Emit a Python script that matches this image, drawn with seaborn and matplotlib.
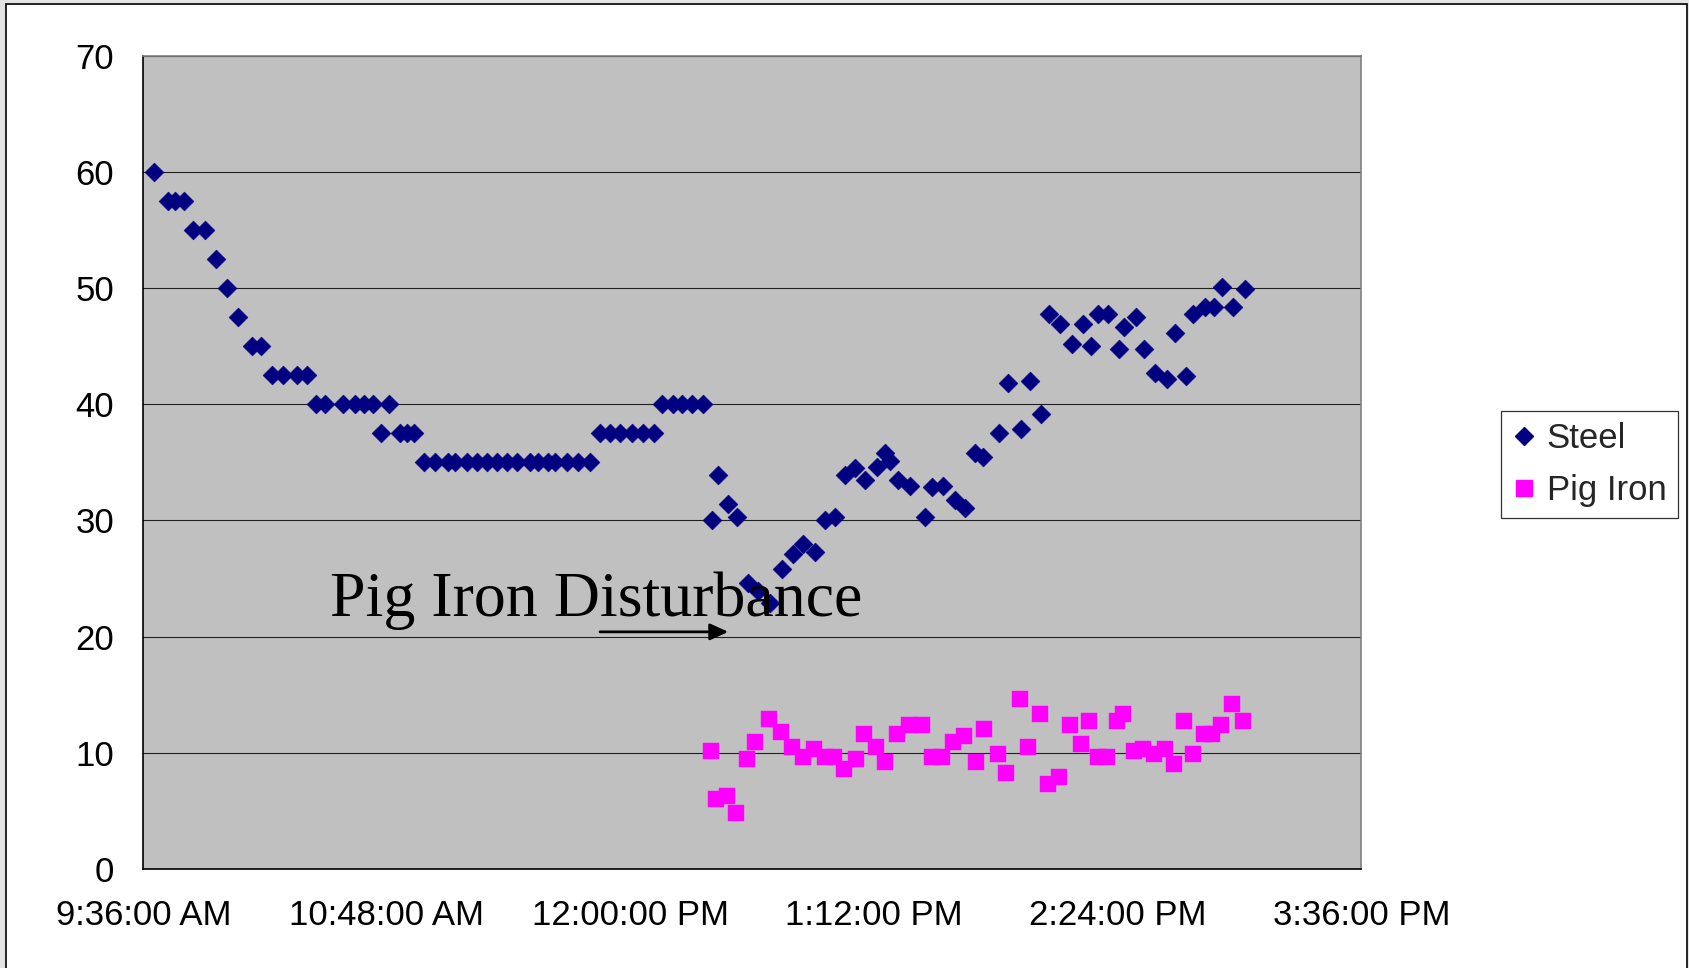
import matplotlib
matplotlib.use('Agg')
import matplotlib.pyplot as plt
import seaborn as sns
import pandas as pd
from matplotlib.patches import Rectangle
from matplotlib.lines import Line2D

# ---- data (minutes after 9:36 AM) ----
steel_min = [3.1, 7.2, 9.3, 12.1, 14.8, 18.1, 21.4, 24.7, 28.0, 32.2,
             34.9, 38.0, 41.3, 45.4, 48.5, 51.0, 53.6, 59.1, 62.6, 65.2,
             67.9, 70.3, 72.6, 75.9, 77.9, 80.1,
             83.0, 86.2, 90.2, 92.1, 95.6, 98.6, 101.5, 104.5, 107.4, 110.4,
             114.3, 116.8, 119.7, 121.7, 125.2, 128.6, 132.0,
             135.0, 137.9, 140.9, 144.4, 147.8, 151.0,
             153.2, 156.5, 159.1, 162.3, 165.5,
             168.0, 169.8, 172.9, 175.4, 178.8, 181.8, 185.2, 188.7, 192.0, 195.1,
             198.6, 201.5, 204.5, 207.4, 210.4, 213.3, 216.8, 219.2, 220.7, 223.2,
             226.6, 230.9, 233.0, 236.5, 239.9, 242.9, 245.8, 248.3, 253.0, 255.5,
             259.4, 262.1, 265.3, 267.8, 271.0, 274.4, 277.7, 280.1, 282.3, 285.2,
             288.5, 290.0, 293.3, 295.8, 299.0, 302.5, 304.9, 308.2, 310.4, 313.8,
             316.6, 318.9, 322.2, 325.5]
steel_val = [60, 57.5, 57.5, 57.5, 55, 55, 52.5, 50, 47.5, 45,
             45, 42.5, 42.5, 42.5, 42.5, 40, 40, 40, 40, 40,
             40, 37.5, 40, 37.5, 37.5, 37.5,
             35, 35, 35, 35, 35, 35, 35, 35, 35, 35,
             35, 35, 35, 35, 35, 35, 35,
             37.5, 37.5, 37.5, 37.5, 37.5, 37.5,
             40, 40, 40, 40, 40,
             30.0, 33.9, 31.4, 30.3, 24.6, 23.9, 22.9, 25.8, 27.1, 28.0,
             27.3, 30.0, 30.3, 33.9, 34.5, 33.5, 34.6, 35.8, 35.1, 33.5,
             33.0, 30.3, 32.85, 33.0, 31.8, 31.1, 35.8, 35.5, 37.5, 41.8,
             37.9, 42.0, 39.2, 47.8, 46.9, 45.2, 46.9, 45.0, 47.8, 47.8,
             44.8, 46.7, 47.5, 44.8, 42.7, 42.2, 46.1, 42.4, 47.8, 48.4,
             48.4, 50.1, 48.4, 49.9]

pig_min = [167.7, 169.3, 172.6, 175.1, 178.4, 180.9, 185.0, 188.4, 191.7, 194.9,
           198.3, 201.5, 204.2, 207.2, 210.6, 213.0, 216.5, 219.2, 222.9, 226.3,
           230.3, 233.1, 236.2, 239.4, 242.7, 246.1, 248.5, 252.6, 255.0, 259.1,
           261.6, 264.9, 267.3, 270.7, 273.9, 277.2, 279.6, 282.3, 284.8, 287.9,
           289.7, 292.9, 295.4, 298.6, 302.1, 304.5, 307.7, 310.3, 313.6, 316.0,
           318.5, 321.7, 325.0]
pig_val = [10.1, 6.0, 6.3, 4.8, 9.45, 10.9, 12.9, 11.8, 10.5, 9.6,
           10.3, 9.6, 9.6, 8.6, 9.45, 11.6, 10.5, 9.2, 11.6, 12.4,
           12.4, 9.6, 9.6, 10.9, 11.4, 9.2, 12.0, 9.9, 8.2, 14.6,
           10.5, 13.3, 7.3, 7.9, 12.4, 10.7, 12.7, 9.6, 9.6, 12.7,
           13.3, 10.1, 10.3, 9.9, 10.3, 9.0, 12.7, 9.9, 11.6, 11.6,
           12.4, 14.2, 12.7]

start_min = 576  # 9:36 AM in minutes after midnight
tick_min = [576, 648, 720, 792, 864, 936]
tick_labels = ['9:36:00 AM', '10:48:00 AM', '12:00:00 PM', '1:12:00 PM', '2:24:00 PM', '3:36:00 PM']
y_ticks = [0, 10, 20, 30, 40, 50, 60, 70]
series_names = ['Steel', 'Pig Iron']

steel_df = pd.DataFrame({'time': [start_min + m for m in steel_min], 'value': steel_val})
pig_df = pd.DataFrame({'time': [start_min + m for m in pig_min], 'value': pig_val})

sns.set_theme(style='white')
plt.rcParams['font.family'] = ['Liberation Sans', 'DejaVu Sans']

W, H = 1690, 968
fig = plt.figure(figsize=(W / 100, H / 100), dpi=100)
fig.patch.set_facecolor('#e4e4e4')
fig.patches.append(Rectangle((6.5 / W, -0.02), (1687 - 6.5) / W, 1 - 4 / H + 0.02,
                             transform=fig.transFigure, facecolor='white',
                             edgecolor='black', lw=1.2, zorder=-10))

x0, x1, y0, y1 = 143.3, 1361.3, 56.0, 868.7
ax = fig.add_axes([x0 / W, 1 - y1 / H, (x1 - x0) / W, (y1 - y0) / H])
ax.set_facecolor('#c0c0c0')

sns.scatterplot(data=steel_df, x='time', y='value', ax=ax, marker='D', s=92,
                color='#000080', edgecolor='#000080', linewidth=0.4, zorder=3)
sns.scatterplot(data=pig_df, x='time', y='value', ax=ax, marker='s', s=140,
                color='#ff00ff', edgecolor='#ff00ff', linewidth=0.3, zorder=3)

ax.set_xlim(tick_min[0], tick_min[-1])
ax.set_ylim(0, 70)
ax.set_xticks(tick_min)
ax.set_xticklabels(tick_labels)
ax.set_yticks(y_ticks)
ax.set_xlabel('')
ax.set_ylabel('')
ax.yaxis.grid(True, color='#202020', lw=0.8)
ax.xaxis.grid(False)
ax.set_axisbelow(True)

ax.tick_params(axis='both', direction='out', length=8, width=1, colors='black', labelsize=25)
ax.tick_params(axis='x', pad=14)
ax.tick_params(axis='y', pad=13)
for s in ['left', 'bottom']:
    ax.spines[s].set_color('black')
    ax.spines[s].set_linewidth(1.2)
for s in ['top', 'right']:
    ax.spines[s].set_color('#808080')
    ax.spines[s].set_linewidth(1.2)

ax.text(start_min + 55.3, 21.8, 'Pig Iron Disturbance', fontsize=46,
        family=['Liberation Serif', 'DejaVu Serif'], va='baseline', ha='left',
        color='black', zorder=6)
ax.annotate('', xy=(start_min + 172.9, 20.4), xytext=(start_min + 135.0, 20.4),
            arrowprops=dict(arrowstyle='-|>,head_length=0.55,head_width=0.25',
                            color='black', lw=2, mutation_scale=20,
                            shrinkA=0, shrinkB=0), zorder=6)

handles = [Line2D([], [], ls='none', marker='D', ms=9.5, color='#000080'),
           Line2D([], [], ls='none', marker='s', ms=11.5, color='#ff00ff')]
leg = fig.legend(handles, series_names, loc='upper left',
                 bbox_to_anchor=(1501 / W, 1 - 411 / H), frameon=True,
                 fancybox=False, edgecolor='black', facecolor='white',
                 fontsize=25, borderpad=0.32, labelspacing=0.55,
                 handlelength=0.7, handletextpad=0.3, borderaxespad=0)
leg.get_frame().set_linewidth(0.9)

fig.savefig('out.png', dpi=100, facecolor=fig.get_facecolor())
